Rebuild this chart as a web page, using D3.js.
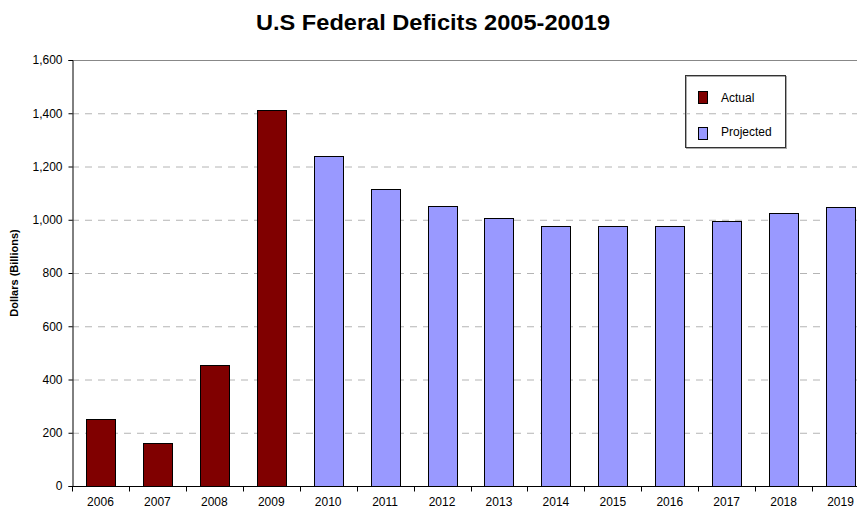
<!DOCTYPE html>
<html><head><meta charset="utf-8">
<script src="https://cdn.jsdelivr.net/npm/d3@7"></script>
<style>body{margin:0;background:#fff}svg{display:block;font-family:"Liberation Sans",Arial,sans-serif}</style>
</head><body><svg id="c" width="857" height="508"></svg>
<script>
const years = ["2006","2007","2008","2009","2010","2011","2012","2013","2014","2015","2016","2017","2018","2019"];
const deficits = [250,162,455,1412,1240,1114,1053,1008,978,978,978,994,1025,1049];
const types = ["Actual","Actual","Actual","Actual","Projected","Projected","Projected","Projected","Projected","Projected","Projected","Projected","Projected","Projected"];
const legendLabels = ["Actual","Projected"];
const yTicks = [0,200,400,600,800,1000,1200,1400,1600];
const colors = {Actual:"#800000", Projected:"#9999ff"};

const svg = d3.select("#c");
const L = 72, R = 869, T = 60, B = 486;
const x = d3.scaleBand().domain(years).range([L, R]).paddingInner(0.49).paddingOuter(0.245);
const xb = d3.scaleBand().domain(years).range([L, R]);
const y = d3.scaleLinear().domain([0,1600]).range([B, T]);

svg.append("text").attr("x", 433).attr("y", 30).attr("text-anchor","middle")
  .attr("font-size", 22.5).attr("font-weight","bold")
  .attr("textLength", 354).attr("lengthAdjust","spacingAndGlyphs")
  .text("U.S Federal Deficits 2005-20019");

// gridlines
svg.append("g").selectAll("line").data(yTicks.filter(d => d > 0 && d < 1600)).join("line")
  .attr("x1", L).attr("x2", 857).attr("y1", d => y(d)+0.5).attr("y2", d => y(d)+0.5)
  .attr("stroke", "#b4b4b4").attr("stroke-dasharray", "7,6");
// top border
svg.append("line").attr("x1", L).attr("x2", 857).attr("y1", T+0.5).attr("y2", T+0.5).attr("stroke", "#888");

// bars
svg.append("g").selectAll("rect").data(years).join("rect")
  .attr("x", d => Math.round(x(d))+0.5).attr("width", Math.round(x.bandwidth()))
  .attr("y", (d,i) => Math.round(y(deficits[i]))+0.5).attr("height", (d,i) => B - Math.round(y(deficits[i])))
  .attr("fill", (d,i) => colors[types[i]]).attr("stroke", "#000").attr("stroke-width", 1);

// y axis
const ya = svg.append("g").attr("transform", `translate(${L+0.5},0)`)
  .call(d3.axisLeft(y).tickValues(yTicks).tickFormat(d3.format(",")).tickSize(4).tickPadding(6));
ya.select(".domain").attr("stroke","#000");
ya.selectAll("text").attr("font-size", 12).attr("fill","#000").attr("font-family","Liberation Sans, Arial, sans-serif");

// x axis
const xa = svg.append("g").attr("transform", `translate(0,${B+0.5})`);
xa.append("line").attr("x1", L).attr("x2", 857).attr("stroke","#000");
xa.selectAll("line.t").data(years).join("line").attr("class","t")
  .attr("x1", d => Math.round(xb(d))+0.5).attr("x2", d => Math.round(xb(d))+0.5)
  .attr("y1", 0).attr("y2", 5).attr("stroke","#000");
xa.selectAll("text").data(years).join("text")
  .attr("x", d => xb(d) + xb.bandwidth()/2).attr("y", 19).attr("text-anchor","middle")
  .attr("font-size", 12).text(d => d);

// y label
svg.append("text").attr("transform", "translate(18,273) rotate(-90)").attr("text-anchor","middle")
  .attr("font-size", 11).attr("font-weight","bold").text("Dollars (Billions)");

// legend
const lg = svg.append("g");
lg.append("rect").attr("x", 686.5).attr("y", 76.5).attr("width", 100).attr("height", 72)
  .attr("fill","none").attr("stroke","#aaa");
lg.append("rect").attr("x", 685.5).attr("y", 75.5).attr("width", 100).attr("height", 72)
  .attr("fill","none").attr("stroke","#333");
legendLabels.forEach((k, i) => {
  lg.append("rect").attr("x", 698.5).attr("y", 91.5 + i*36).attr("width", 9).attr("height", 12)
    .attr("fill", colors[k]).attr("stroke","#000");
  lg.append("text").attr("x", 721).attr("y", 102 + i*34).attr("font-size", 12).text(k);
});
</script></body></html>
